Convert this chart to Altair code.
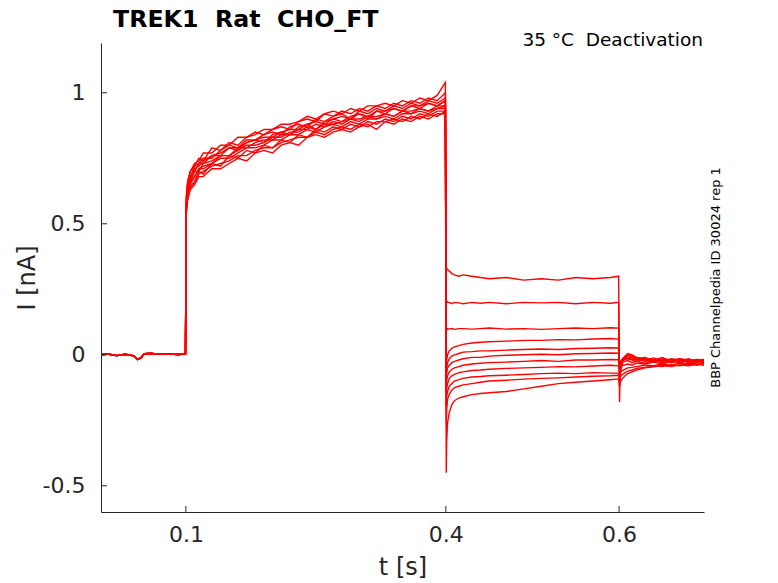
import altair as alt
import pandas as pd

# ---------------- data ----------------
XTICKS = [0.1, 0.4, 0.6]
YTICKS = [-0.5, 0, 0.5, 1]

# baseline (before the step), shared by all sweeps
BT = [0.002, 0.01, 0.02, 0.03, 0.04, 0.044, 0.048, 0.052, 0.06, 0.07, 0.08, 0.09, 0.0995]
BV = [0.0, 0.003, -0.003, 0.002, -0.004, -0.018, -0.012, 0.004, 0.005, 0.002, 0.004, 0.001, 0.003]

# activation phase
AT = [0.1005, 0.102, 0.105, 0.11, 0.115, 0.12, 0.13, 0.14, 0.15, 0.16, 0.17, 0.18,
      0.19, 0.20, 0.21, 0.22, 0.23, 0.24, 0.25, 0.26, 0.27, 0.28, 0.29, 0.30, 0.31,
      0.32, 0.33, 0.34, 0.35, 0.36, 0.37, 0.38, 0.39, 0.3995]
ACT = [
    [0.60,0.66,0.70,0.72,0.75,0.74,0.79,0.78,0.81,0.80,0.83,0.85,0.84,0.86,0.87,0.86,0.89,0.90,0.89,0.92,0.91,0.93,0.92,0.94,0.93,0.95,0.94,0.96,0.95,0.97,0.96,0.98,0.97,1.00],
    [0.55,0.60,0.64,0.66,0.70,0.69,0.73,0.72,0.76,0.75,0.78,0.77,0.80,0.79,0.82,0.81,0.84,0.83,0.86,0.85,0.87,0.86,0.88,0.87,0.89,0.88,0.90,0.89,0.91,0.90,0.92,0.91,0.93,0.93],
    [0.58,0.64,0.67,0.71,0.72,0.74,0.76,0.77,0.79,0.78,0.81,0.82,0.81,0.84,0.85,0.84,0.87,0.88,0.86,0.89,0.90,0.89,0.91,0.92,0.90,0.93,0.92,0.94,0.93,0.95,0.94,0.96,0.95,0.97],
    [0.54,0.59,0.63,0.65,0.68,0.68,0.71,0.71,0.73,0.75,0.74,0.77,0.78,0.77,0.80,0.81,0.80,0.83,0.84,0.83,0.85,0.86,0.85,0.87,0.88,0.86,0.89,0.88,0.90,0.89,0.91,0.90,0.92,0.92],
    [0.57,0.63,0.66,0.70,0.70,0.73,0.74,0.76,0.76,0.79,0.79,0.81,0.82,0.82,0.84,0.84,0.86,0.86,0.88,0.87,0.89,0.88,0.90,0.90,0.91,0.90,0.92,0.91,0.93,0.92,0.94,0.93,0.95,0.95],
    [0.59,0.65,0.68,0.72,0.73,0.75,0.75,0.78,0.80,0.79,0.82,0.82,0.84,0.85,0.84,0.87,0.88,0.87,0.90,0.89,0.91,0.92,0.90,0.93,0.92,0.94,0.93,0.95,0.94,0.96,0.95,0.97,0.96,0.98],
    [0.56,0.61,0.65,0.68,0.71,0.71,0.73,0.75,0.75,0.77,0.79,0.79,0.80,0.82,0.82,0.84,0.84,0.86,0.85,0.87,0.88,0.87,0.89,0.88,0.90,0.90,0.91,0.90,0.92,0.92,0.93,0.92,0.94,0.94],
    [0.61,0.66,0.70,0.73,0.74,0.77,0.77,0.80,0.80,0.83,0.83,0.84,0.86,0.86,0.88,0.88,0.89,0.91,0.90,0.92,0.93,0.92,0.94,0.93,0.95,0.95,0.96,0.95,0.97,0.96,0.98,0.97,0.99,1.04],
    [0.55,0.60,0.64,0.66,0.69,0.70,0.72,0.73,0.74,0.76,0.76,0.78,0.79,0.79,0.81,0.82,0.83,0.83,0.85,0.84,0.86,0.87,0.86,0.88,0.87,0.89,0.89,0.90,0.89,0.91,0.90,0.92,0.91,0.93],
    [0.58,0.64,0.68,0.70,0.73,0.73,0.76,0.76,0.79,0.79,0.81,0.82,0.83,0.83,0.85,0.86,0.86,0.88,0.89,0.88,0.90,0.91,0.90,0.92,0.91,0.93,0.93,0.94,0.93,0.95,0.95,0.96,0.95,0.97],
    [0.56,0.62,0.66,0.68,0.71,0.72,0.73,0.76,0.76,0.78,0.80,0.80,0.81,0.83,0.83,0.85,0.85,0.87,0.86,0.88,0.88,0.89,0.90,0.89,0.91,0.91,0.92,0.91,0.93,0.93,0.94,0.93,0.94,0.95],
]

# tail (deactivation) phase
TT = [0.4005, 0.401, 0.402, 0.404, 0.407, 0.41, 0.415, 0.42, 0.43, 0.44, 0.45,
      0.47, 0.49, 0.51, 0.53, 0.55, 0.57, 0.59, 0.5995]
TAIL = [
    [0.34,0.33,0.325,0.32,0.31,0.305,0.30,0.305,0.30,0.295,0.29,0.295,0.285,0.29,0.285,0.295,0.29,0.295,0.30],
    [0.21,0.205,0.20,0.20,0.195,0.20,0.198,0.195,0.20,0.197,0.20,0.195,0.20,0.198,0.20,0.195,0.20,0.197,0.20],
    [0.09,0.095,0.10,0.098,0.10,0.097,0.10,0.10,0.098,0.10,0.102,0.098,0.10,0.097,0.10,0.102,0.10,0.103,0.102],
    [-0.05,-0.02,0.0,0.015,0.025,0.03,0.035,0.04,0.045,0.048,0.05,0.052,0.055,0.055,0.058,0.057,0.06,0.062,0.06],
    [-0.08,-0.05,-0.03,-0.015,-0.005,0.0,0.005,0.01,0.012,0.015,0.015,0.018,0.02,0.022,0.02,0.024,0.025,0.027,0.026],
    [-0.10,-0.07,-0.05,-0.04,-0.03,-0.025,-0.02,-0.015,-0.01,-0.01,-0.005,-0.002,0.0,0.002,0.0,0.004,0.005,0.007,0.006],
    [-0.13,-0.10,-0.08,-0.065,-0.055,-0.05,-0.045,-0.04,-0.035,-0.032,-0.03,-0.028,-0.025,-0.022,-0.025,-0.02,-0.02,-0.018,-0.019],
    [-0.16,-0.13,-0.11,-0.09,-0.08,-0.075,-0.068,-0.065,-0.06,-0.058,-0.055,-0.052,-0.05,-0.048,-0.045,-0.046,-0.043,-0.04,-0.042],
    [-0.20,-0.16,-0.14,-0.12,-0.11,-0.10,-0.095,-0.09,-0.085,-0.083,-0.08,-0.078,-0.075,-0.072,-0.07,-0.072,-0.068,-0.07,-0.07],
    [-0.26,-0.21,-0.17,-0.15,-0.135,-0.125,-0.12,-0.115,-0.11,-0.105,-0.10,-0.097,-0.093,-0.09,-0.088,-0.085,-0.082,-0.08,-0.078],
    [-0.45,-0.33,-0.26,-0.22,-0.19,-0.175,-0.165,-0.16,-0.152,-0.148,-0.145,-0.14,-0.13,-0.12,-0.11,-0.105,-0.10,-0.095,-0.092],
]

# after the tail step
PT = [0.6005, 0.601, 0.602, 0.604, 0.607, 0.61, 0.615, 0.62, 0.63, 0.64, 0.65,
      0.66, 0.67, 0.68, 0.69, 0.698]
POST = [
    [-0.18,-0.10,-0.06,-0.03,-0.01,0.0,-0.005,-0.01,-0.015,-0.02,-0.01,-0.025,-0.015,-0.02,-0.025,-0.02],
    [-0.12,-0.07,-0.04,-0.02,-0.005,0.005,0.0,-0.01,-0.02,-0.012,-0.025,-0.015,-0.02,-0.028,-0.018,-0.022],
    [-0.08,-0.05,-0.03,-0.015,-0.005,0.0,-0.01,-0.015,-0.01,-0.022,-0.015,-0.02,-0.03,-0.018,-0.022,-0.025],
    [-0.06,-0.04,-0.025,-0.015,-0.01,-0.008,-0.012,-0.02,-0.015,-0.025,-0.018,-0.022,-0.015,-0.03,-0.02,-0.018],
    [-0.05,-0.035,-0.025,-0.02,-0.015,-0.012,-0.018,-0.015,-0.025,-0.018,-0.03,-0.02,-0.025,-0.015,-0.028,-0.02],
    [-0.04,-0.03,-0.025,-0.02,-0.018,-0.015,-0.02,-0.025,-0.018,-0.028,-0.02,-0.03,-0.022,-0.025,-0.018,-0.026],
    [-0.045,-0.035,-0.03,-0.028,-0.025,-0.022,-0.03,-0.025,-0.032,-0.022,-0.028,-0.02,-0.03,-0.024,-0.03,-0.022],
    [-0.06,-0.05,-0.045,-0.04,-0.038,-0.035,-0.04,-0.032,-0.035,-0.028,-0.035,-0.025,-0.03,-0.035,-0.025,-0.03],
    [-0.08,-0.07,-0.065,-0.06,-0.055,-0.05,-0.048,-0.045,-0.04,-0.042,-0.035,-0.04,-0.032,-0.038,-0.03,-0.035],
    [-0.10,-0.09,-0.08,-0.075,-0.068,-0.062,-0.058,-0.052,-0.048,-0.042,-0.045,-0.038,-0.042,-0.035,-0.04,-0.033],
    [-0.12,-0.11,-0.10,-0.09,-0.08,-0.072,-0.065,-0.058,-0.05,-0.046,-0.04,-0.045,-0.038,-0.042,-0.035,-0.04],
]

TITLE = "TREK1\u00a0 Rat\u00a0 CHO_FT"
NOTE = "35 °C\u00a0 Deactivation"
SIDE = "BBP Channelpedia ID 30024 rep 1"

# ---------------- build table ----------------
rows = []
times = BT + AT + TT + PT
for k in range(len(ACT)):
    vals = BV + ACT[k] + TAIL[k] + POST[k]
    for t, v in zip(times, vals):
        rows.append({"t": t, "i": v, "sweep": k})
df = pd.DataFrame(rows)

FONT = "DejaVu Sans"
INK = "#262626"
W, H = 603, 469

xscale = alt.Scale(domain=[0.002, 0.698], nice=False, zero=False)
yscale = alt.Scale(domain=[-0.6, 1.19], nice=False, zero=False)

lines = alt.Chart(df).mark_line(color="#ff0000", strokeWidth=1.4, clip=True).encode(
    x=alt.X("t:Q", scale=xscale, axis=alt.Axis(
        values=XTICKS, format=".1f", ticks=False, tickSize=0, grid=False,
        title="t [s]", labelFontSize=22, titleFontSize=24, labelPadding=12,
        titlePadding=10, labelFont=FONT, titleFont=FONT, titleFontWeight="normal",
        labelColor=INK, titleColor=INK, domainColor=INK, domainWidth=1)),
    y=alt.Y("i:Q", scale=yscale, axis=alt.Axis(
        values=YTICKS, format=".1~f",
        labelExpr="replace(datum.label, '\u2212', '-')",
        ticks=False, tickSize=0, grid=False, title="I [nA]", labelFontSize=22,
        titleFontSize=24, labelPadding=16, titlePadding=3, labelFont=FONT,
        titleFont=FONT, titleFontWeight="normal", labelColor=INK, titleColor=INK,
        domainColor=INK, domainWidth=1)),
    detail="sweep:N",
    order="t:Q",
)

xt = alt.Chart(pd.DataFrame({"t": XTICKS})).mark_rule(color=INK, strokeWidth=1).encode(
    x=alt.X("t:Q", scale=xscale), y=alt.value(H), y2=alt.value(H - 6))
yt = alt.Chart(pd.DataFrame({"i": YTICKS})).mark_rule(color=INK, strokeWidth=1).encode(
    y=alt.Y("i:Q", scale=yscale), x=alt.value(0), x2=alt.value(6))

one = pd.DataFrame({"k": [0]})
title = alt.Chart(one).mark_text(align="left", baseline="alphabetic", font=FONT,
                                  fontSize=23.7, fontWeight="bold", color="#000000").encode(
    x=alt.value(12), y=alt.value(-16.5), text=alt.value(TITLE))
note = alt.Chart(one).mark_text(align="right", baseline="middle", font=FONT,
                                 fontSize=18.5, color="#000000").encode(
    x=alt.value(602), y=alt.value(-3), text=alt.value(NOTE))
side = alt.Chart(one).mark_text(align="center", baseline="middle", font=FONT,
                                 fontSize=13, angle=270, color="#000000").encode(
    x=alt.value(615), y=alt.value(H / 2), text=alt.value(SIDE))

chart = alt.layer(lines, xt, yt, title, note, side).properties(
    width=W, height=H,
    autosize=alt.AutoSizeParams(type="none"),
    padding={"left": 93, "top": 35, "right": 66, "bottom": 70},
).configure_view(strokeWidth=0, strokeOpacity=0)

chart.save("out.html", embed_options={"renderer": "svg", "actions": False})
